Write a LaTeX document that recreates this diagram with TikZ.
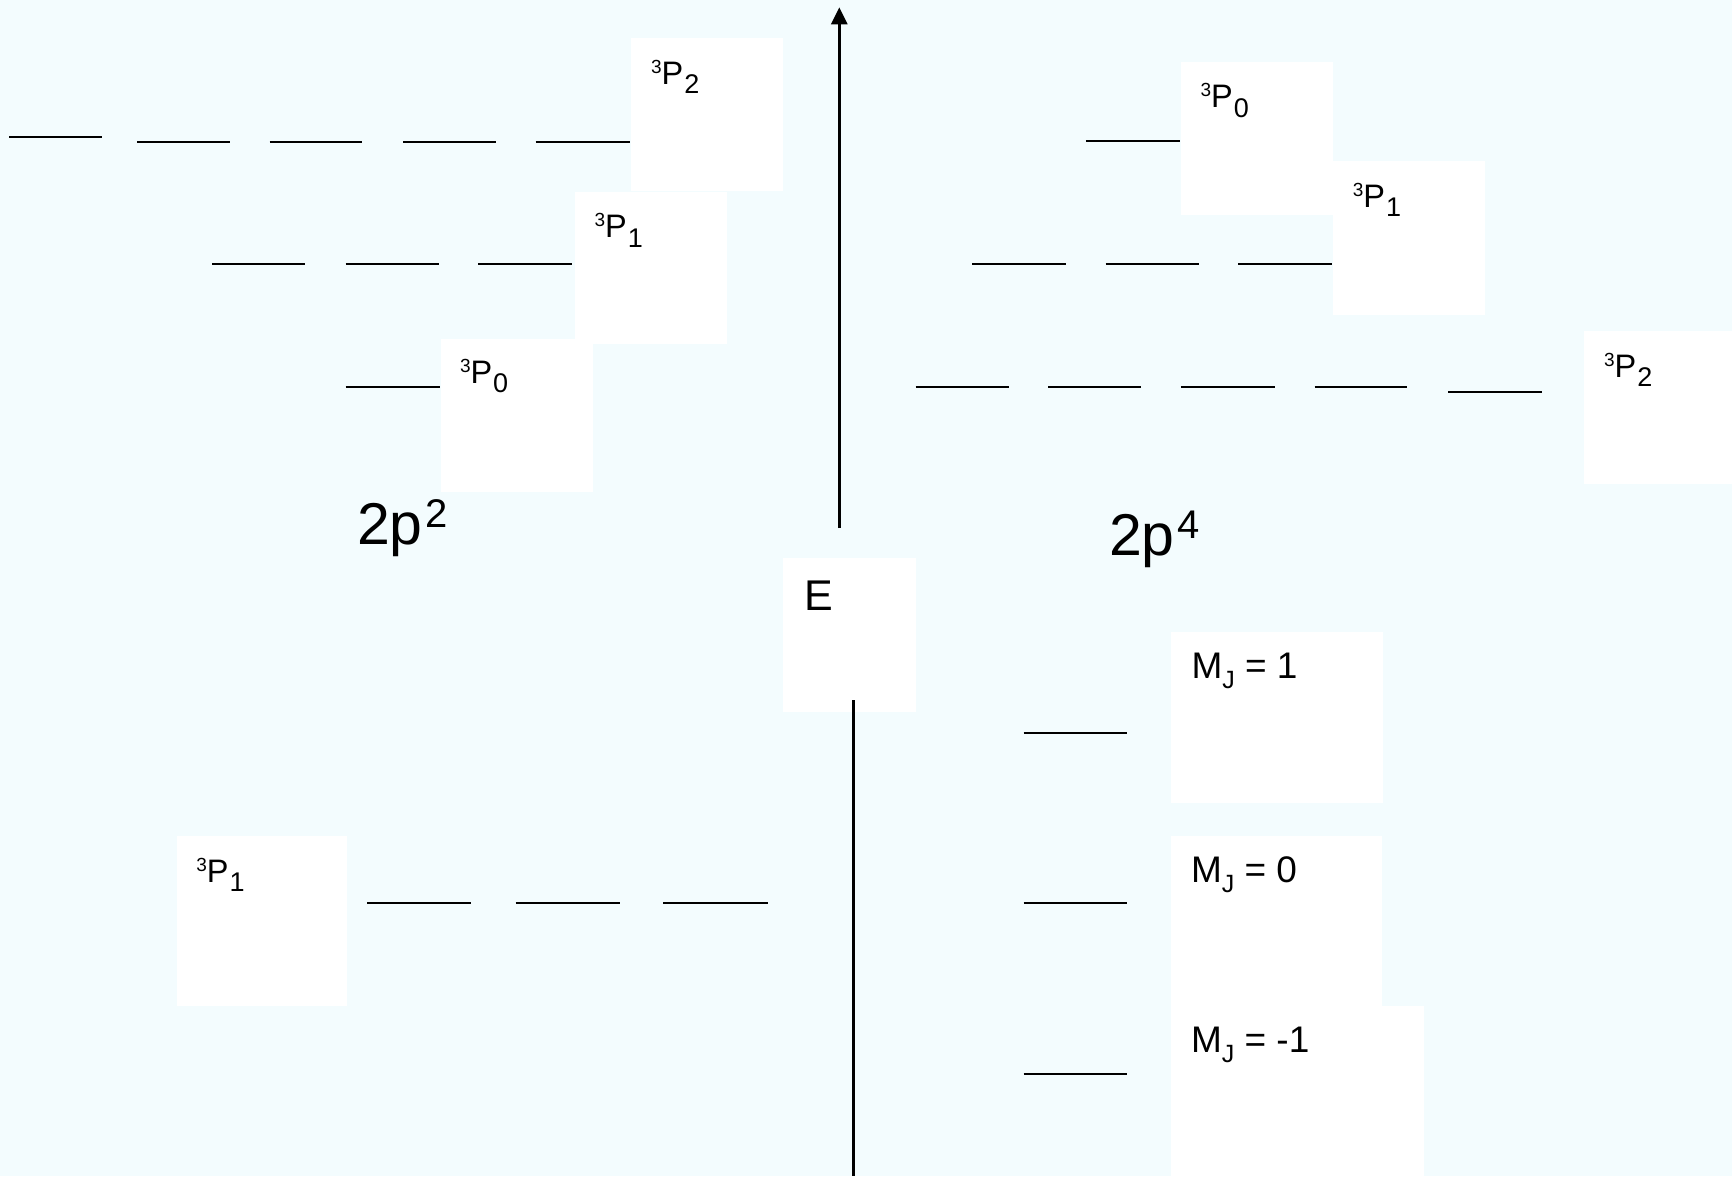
\documentclass[tikz,border=0pt]{standalone}
\usepackage{fontspec}
\setmainfont{Liberation Sans}
\usetikzlibrary{arrows.meta,calc}
\definecolor{bgc}{RGB}{243,252,254}
\newcommand{\tsym}[1]{{\fontsize{19}{21}\selectfont\raisebox{11pt}{3}}P\hspace{1pt}{\fontsize{27}{29}\selectfont\raisebox{-9.5pt}{#1}}}
\newcommand{\mjlab}[1]{M{\fontsize{25}{27}\selectfont\raisebox{-10pt}{J}} = #1}
\newcommand{\twop}[1]{2p\hspace{3pt}{\fontsize{40}{44}\selectfont\raisebox{17pt}{#1}}}
\begin{document}
\begin{tikzpicture}[x=1pt,y=-1pt,
  wbox/.style={fill=white, draw=none, inner sep=0pt, outer sep=0pt, anchor=north west},
  lev/.style={line width=2pt, black},
  axis/.style={line width=2.6pt, black},
  lbl/.style={anchor=base west, inner sep=0pt, outer sep=0pt, font=\fontsize{32.5}{36}\selectfont},
  mjl/.style={anchor=base west, inner sep=0pt, outer sep=0pt, font=\fontsize{37}{40}\selectfont},
  big/.style={anchor=base west, inner sep=0pt, outer sep=0pt, font=\fontsize{59}{64}\selectfont},
]
\fill[bgc] (0,0) rectangle (1732,1176);
\useasboundingbox (0,0) rectangle (1732,1176);

% white label boxes
\node[wbox, minimum width=152pt, minimum height=153pt] (bLP2) at (631,38) {};
\node[wbox, minimum width=152pt, minimum height=152.5pt] (bLP1) at (574.5,191.5) {};
\node[wbox, minimum width=152pt, minimum height=153pt] (bLP0) at (441,339) {};
\node[wbox, minimum width=152pt, minimum height=153pt] (bRP0) at (1181,61.8) {};
\node[wbox, minimum width=151.5pt, minimum height=153.5pt] (bRP1) at (1333.3,161) {};
\node[wbox, minimum width=152pt, minimum height=153pt] (bRP2) at (1583.5,331) {};
\node[wbox, minimum width=133.3pt, minimum height=153.7pt] (bE) at (782.7,558) {};
\node[wbox, minimum width=211.7pt, minimum height=170.4pt] (bMJ1) at (1171,632.3) {};
\node[wbox, minimum width=211.5pt, minimum height=170pt] (bMJ0) at (1170.5,836) {};
\node[wbox, minimum width=253.5pt, minimum height=170pt] (bMJm) at (1170.5,1006) {};
\node[wbox, minimum width=169.7pt, minimum height=170pt] (bBL) at (176.8,836) {};

% labels
\node[lbl] (tLP2) at ($(bLP2.north west)+(20,46)$) {\tsym{2}};
\node[lbl] (tLP1) at ($(bLP1.north west)+(20,46)$) {\tsym{1}};
\node[lbl] (tLP0) at ($(bLP0.north west)+(19,44)$) {\tsym{0}};
\node[lbl] (tRP0) at ($(bRP0.north west)+(19.5,46)$) {\tsym{0}};
\node[lbl] (tRP1) at ($(bRP1.north west)+(19.5,46)$) {\tsym{1}};
\node[lbl] (tRP2) at ($(bRP2.north west)+(20.5,46)$) {\tsym{2}};
\node[lbl] (tBL) at ($(bBL.north west)+(19.5,46)$) {\tsym{1}};
\node[mjl] (tMJ1) at ($(bMJ1.north west)+(20.5,46)$) {\mjlab{1}};
\node[mjl] (tMJ0) at ($(bMJ0.north west)+(20.5,46.5)$) {\mjlab{0}};
\node[mjl] (tMJm) at ($(bMJm.north west)+(20.5,46.5)$) {\mjlab{-1}};
\node[anchor=base west, inner sep=0pt, font=\fontsize{43}{46}\selectfont] (tE) at ($(bE.north west)+(22,52)$) {E};
\node[big] (t2p2) at (357,544) {\twop{2}};
\node[big] (t2p4) at (1109,555) {\twop{4}};

% energy axis
\coordinate (axbot) at (839.3,528);
\coordinate (axtop) at (839.3,7.3);
\draw[axis, -{Triangle[length=17pt,width=16pt]}] (axbot) -- (axtop);
\coordinate (lowtop) at (853.7,700);
\coordinate (lowbot) at (853.7,1176);
\draw[axis] (lowtop) -- (lowbot);

% left 2p2 levels
\draw[lev] (9,137) -- (102,137);
\foreach \a/\b in {137/230, 269.5/362.3, 403/496, 535.7/629.6}
  \draw[lev] (\a,141.7) -- (\b,141.7);
\foreach \a/\b in {212/305, 345.7/438.5, 478/572}
  \draw[lev] (\a,264) -- (\b,264);
\draw[lev] (345.7,386.7) -- (439.6,386.7);

% right 2p4 levels
\draw[lev] (1085.8,141.4) -- (1179.7,141.4);
\foreach \a/\b in {972/1066, 1105.7/1198.5, 1238.3/1332}
  \draw[lev] (\a,264) -- (\b,264);
\foreach \a/\b in {915.7/1008.5, 1048.3/1141, 1180.8/1274.7, 1314.5/1407.3}
  \draw[lev] (\a,386.7) -- (\b,386.7);
\draw[lev] (1448,391.7) -- (1542,391.7);

% bottom-left 3P1 levels
\foreach \a/\b in {367.4/471.3, 515.5/620, 663/768}
  \draw[lev] (\a,903.3) -- (\b,903.3);

% MJ levels
\foreach \y in {733, 903, 1074}
  \draw[lev] (1023.5,\y) -- (1126.8,\y);
\end{tikzpicture}
\end{document}
